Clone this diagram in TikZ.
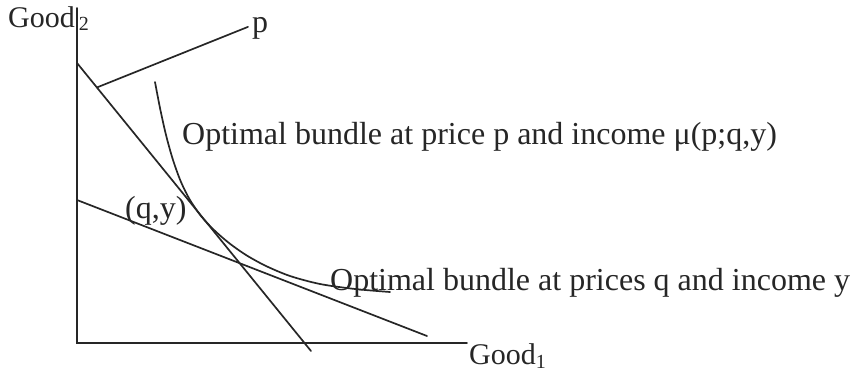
\documentclass[tikz,border=0pt]{standalone}
\usepackage{fontspec}
\setmainfont{Liberation Serif}
\usetikzlibrary{calc}
\begin{document}
\begin{tikzpicture}[x=1pt,y=-1pt,
  ln/.style={line width=1.7pt, draw=black!85, line cap=round},
  lbl/.style={inner sep=0pt, anchor=base west, text=black!85, font=\fontsize{32}{38}\selectfont},
  axlbl/.style={inner sep=0pt, anchor=base west, text=black!85, font=\fontsize{30}{36}\selectfont}]
\useasboundingbox (0,0) rectangle (855,374);
% axes
\coordinate (O) at (77,343);
\coordinate (Ytop) at (77,8);
\coordinate (Xend) at (467,343);
\draw[ln] (Ytop) -- (O) -- (Xend);
% budget lines
\coordinate (pA) at (77,63);
\coordinate (pB) at (311,351);
\coordinate (qA) at (77,200);
\coordinate (qB) at (427,336);
\draw[ln] (pA) -- (pB);
\draw[ln] (qA) -- (qB);
% indifference curve
\draw[ln] plot[smooth, tension=0.5] coordinates {
  (155,82) (160,108) (166,135) (173,160) (181,182) (190,200) (201,216)
  (214,230) (229,243) (246,255) (266,266) (290,276) (320,284) (355,289)
  (390,292)};
% labels
\node[axlbl] (g2) at (8,28) {Good\kern4pt\raisebox{-3pt}{\fontsize{20}{20}\selectfont 2}};
\node[axlbl] (g1) at (469,365) {Good\raisebox{-3pt}{\fontsize{20}{20}\selectfont 1}};
\node[lbl] (plab) at (252,33) {p};
\node[lbl] (optp) at (182,145) {Optimal bundle at price p and income μ(p;q,y)};
\node[lbl] (qy) at (125,219) {(q,y)};
\node[lbl] (optq) at (330,291) {Optimal bundle at prices q and income y};
% leader to p
\coordinate (pfoot) at ($(pA)!0.085!(pB)$);
\draw[ln] (pfoot) -- ([xshift=-4pt,yshift=2pt]plab.west);
\end{tikzpicture}
\end{document}
